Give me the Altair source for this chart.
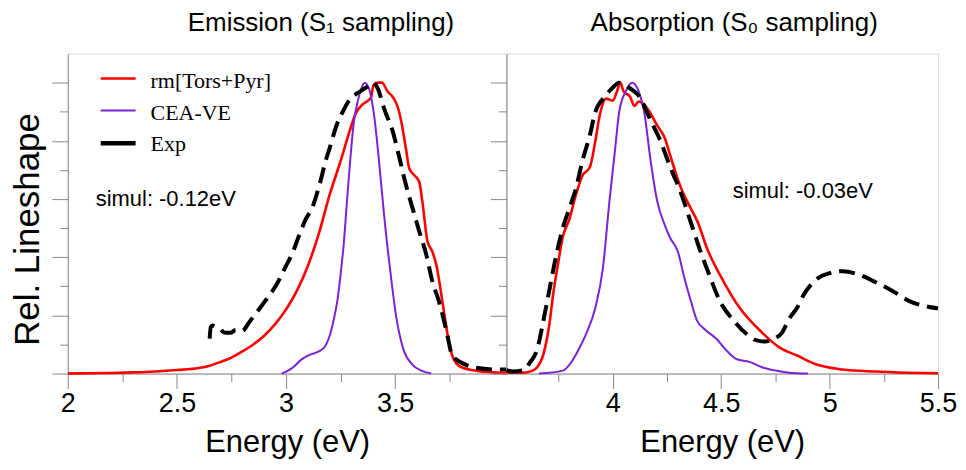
import altair as alt
import pandas as pd

RED = "#ff0000"
PURPLE = "#7b22d4"
BLACK = "#000000"
FONT = "Liberation Sans"
SERIF = "Liberation Serif"

SERIES = ["rm[Tors+Pyr]", "CEA-VE", "Exp"]
LEFT_TITLE = "Emission (S\u2081 sampling)"
RIGHT_TITLE = "Absorption (S\u2080 sampling)"
LEFT_NOTE = "simul: -0.12eV"
RIGHT_NOTE = "simul: -0.03eV"
X_TITLE = "Energy (eV)"
Y_TITLE = "Rel. Lineshape"

left_xticks = [2, 2.25, 2.5, 2.75, 3, 3.25, 3.5, 3.75]
right_xticks = [3.75, 4, 4.25, 4.5, 4.75, 5, 5.25, 5.5]
yticks = [0, 0.1, 0.2, 0.3, 0.4, 0.5, 0.6, 0.7, 0.8, 0.9, 1.0]
left_domain = [2, 4.01]
right_domain = [3.51, 5.5]
y_domain = [0, 1.1]

# ---- Emission (S1 sampling) ----
em_rm_E = [2.00, 2.10, 2.20, 2.30, 2.40, 2.50, 2.60, 2.65, 2.70, 2.75, 2.80, 2.85, 2.90, 2.95,
           3.00, 3.05, 3.10, 3.15, 3.20, 3.25, 3.29, 3.32, 3.35, 3.37, 3.39, 3.40, 3.42, 3.44,
           3.465, 3.49, 3.51, 3.53, 3.55, 3.565, 3.59, 3.61, 3.625, 3.648, 3.67, 3.69, 3.716,
           3.74, 3.76, 3.78, 3.81, 3.87, 3.95, 4.01]
em_rm_I = [0.000, 0.001, 0.002, 0.004, 0.007, 0.012, 0.019, 0.027, 0.040, 0.055, 0.076, 0.100, 0.130, 0.170,
           0.220, 0.285, 0.370, 0.480, 0.615, 0.730, 0.830, 0.895, 0.925, 0.935, 0.950, 0.990, 1.000, 1.000,
           0.970, 0.950, 0.920, 0.860, 0.770, 0.705, 0.680, 0.660, 0.590, 0.455, 0.420, 0.370, 0.250,
           0.135, 0.065, 0.035, 0.020, 0.010, 0.004, 0.002]

em_cea_E = [2.98, 3.03, 3.07, 3.11, 3.15, 3.18, 3.20, 3.22, 3.235, 3.25, 3.265, 3.28, 3.295, 3.31,
            3.33, 3.345, 3.36, 3.38, 3.405, 3.43, 3.45, 3.475, 3.505, 3.535, 3.58, 3.62, 3.665]
em_cea_I = [0.000, 0.020, 0.048, 0.065, 0.076, 0.095, 0.130, 0.190, 0.250, 0.340, 0.450, 0.600, 0.740, 0.860,
            0.940, 0.980, 1.000, 0.980, 0.880, 0.700, 0.540, 0.370, 0.195, 0.090, 0.030, 0.010, 0.000]

em_exp_E = [2.65, 2.655, 2.665, 2.695, 2.72, 2.745, 2.77, 2.80, 2.83, 2.86, 2.89, 2.92, 2.956, 3.00,
            3.03, 3.06, 3.09, 3.12, 3.15, 3.185, 3.20, 3.23, 3.26, 3.29, 3.32, 3.35, 3.37, 3.40,
            3.42, 3.45, 3.49, 3.52, 3.55, 3.58, 3.61, 3.643, 3.67, 3.70, 3.735, 3.76, 3.78, 3.81,
            3.87, 3.96, 4.01]
em_exp_I = [0.120, 0.160, 0.165, 0.155, 0.140, 0.140, 0.150, 0.147, 0.175, 0.205, 0.235, 0.265, 0.305, 0.370,
            0.415, 0.475, 0.530, 0.570, 0.640, 0.740, 0.775, 0.850, 0.900, 0.940, 0.960, 0.975, 0.985, 1.000,
            0.980, 0.910, 0.830, 0.740, 0.647, 0.568, 0.490, 0.408, 0.318, 0.250, 0.147, 0.065, 0.048, 0.035,
            0.020, 0.014, 0.014]

# ---- Absorption (S0 sampling) ----
ab_rm_E = [3.51, 3.59, 3.63, 3.65, 3.68, 3.71, 3.725, 3.75, 3.77, 3.80, 3.83, 3.86, 3.895, 3.92,
           3.94, 3.97, 4.00, 4.02, 4.035, 4.05, 4.08, 4.10, 4.12, 4.15, 4.17, 4.205, 4.24, 4.265,
           4.31, 4.36, 4.39, 4.435, 4.51, 4.585, 4.68, 4.77, 4.85, 4.94, 5.06, 5.21, 5.36, 5.50]
ab_rm_I = [0.003, 0.003, 0.010, 0.020, 0.065, 0.180, 0.270, 0.387, 0.470, 0.530, 0.613, 0.680, 0.710, 0.800,
           0.887, 0.945, 0.938, 0.970, 1.000, 0.970, 0.952, 0.920, 0.935, 0.920, 0.900, 0.853, 0.810, 0.750,
           0.647, 0.568, 0.524, 0.430, 0.318, 0.226, 0.147, 0.089, 0.062, 0.031, 0.014, 0.007, 0.003, 0.001]

ab_cea_E = [3.66, 3.77, 3.80, 3.83, 3.876, 3.92, 3.955, 3.985, 4.01, 4.03, 4.06, 4.09, 4.12, 4.145,
            4.175, 4.205, 4.24, 4.265, 4.30, 4.33, 4.36, 4.39, 4.42, 4.48, 4.525, 4.57, 4.63, 4.695,
            4.755, 4.83, 4.90]
ab_cea_I = [0.000, 0.010, 0.030, 0.065, 0.134, 0.226, 0.363, 0.593, 0.764, 0.900, 0.970, 1.000, 0.970, 0.900,
            0.730, 0.593, 0.510, 0.466, 0.420, 0.330, 0.250, 0.180, 0.155, 0.118, 0.079, 0.050, 0.040, 0.020,
            0.010, 0.002, 0.000]

ab_exp_E = [3.51, 3.54, 3.59, 3.62, 3.65, 3.68, 3.71, 3.74, 3.77, 3.80, 3.83, 3.86, 3.895, 3.92,
            3.955, 3.99, 4.03, 4.06, 4.09, 4.12, 4.175, 4.22, 4.265, 4.31, 4.36, 4.40, 4.45, 4.49,
            4.56, 4.62, 4.66, 4.70, 4.74, 4.78, 4.815, 4.85, 4.88, 4.95, 5.00, 5.06, 5.135, 5.21,
            5.29, 5.365, 5.44, 5.50]
ab_exp_I = [0.012, 0.007, 0.012, 0.040, 0.079, 0.180, 0.295, 0.408, 0.500, 0.568, 0.635, 0.730, 0.820, 0.900,
            0.945, 0.975, 1.000, 0.990, 0.975, 0.955, 0.870, 0.800, 0.710, 0.630, 0.520, 0.430, 0.330, 0.255,
            0.180, 0.134, 0.115, 0.110, 0.118, 0.140, 0.190, 0.226, 0.270, 0.330, 0.345, 0.352, 0.340, 0.315,
            0.284, 0.250, 0.232, 0.224]

X_MAJOR = "(datum.value*2)%1==0"
Y_MAJOR = "round(datum.value*10)%2==0"

yscale = alt.Scale(domain=y_domain, nice=False, zero=False)


def make_xaxis(ticks, last_label):
    return alt.Axis(
        values=ticks, format="~g",
        labelExpr=f"{X_MAJOR} && datum.value <= {last_label} ? datum.label : ''",
        tickSize={"condition": {"test": X_MAJOR, "value": 15}, "value": 8},
        labelFlush=False, labelOverlap=False, labelPadding=2,
        labelFont=FONT, labelFontSize=27, labelColor=BLACK,
        title=X_TITLE, titleFont=FONT, titleFontSize=31, titleFontWeight="normal",
        titleColor=BLACK, titlePadding=11, grid=False,
    )


def make_yaxis(with_title):
    kw = dict(
        values=yticks, labels=False, grid=False,
        tickSize={"condition": {"test": Y_MAJOR, "value": 16}, "value": 8},
    )
    if with_title:
        kw.update(title=Y_TITLE, titleFont=FONT, titleFontSize=35, titleFontWeight="normal",
                  titleColor=BLACK, titlePadding=6, titleY=176)
    else:
        kw.update(title=None)
    return alt.Axis(**kw)


def curve(E, I, color, width, xscale, xaxis, yaxis, dash=None):
    df = pd.DataFrame({"E": E, "I": I})
    mk = dict(color=color, strokeWidth=width, interpolate="monotone")
    if dash is not None:
        mk["strokeDash"] = dash
    return alt.Chart(df).mark_line(**mk).encode(
        x=alt.X("E:Q", scale=xscale, axis=xaxis),
        y=alt.Y("I:Q", scale=yscale, axis=yaxis),
    )


def text_layer(txt, x, y, font, size, color=BLACK):
    return alt.Chart(pd.DataFrame({"t": [txt]})).mark_text(
        font=font, fontSize=size, color=color, align="left", baseline="alphabetic"
    ).encode(text="t:N", x=alt.value(x), y=alt.value(y))


def legend_rule(color, width, y):
    return alt.Chart(pd.DataFrame({"t": [0]})).mark_rule(color=color, strokeWidth=width).encode(
        x=alt.value(33), x2=alt.value(68), y=alt.value(y)
    )


lx = alt.Scale(domain=left_domain, nice=False, zero=False)
rx = alt.Scale(domain=right_domain, nice=False, zero=False)
lxa = make_xaxis(left_xticks, 3.5)
rxa = make_xaxis(right_xticks, 5.5)
lya = make_yaxis(True)
rya = make_yaxis(False)

left = alt.layer(
    curve(em_rm_E, em_rm_I, RED, 2.6, lx, lxa, lya),
    curve(em_cea_E, em_cea_I, PURPLE, 2, lx, lxa, lya),
    curve(em_exp_E, em_exp_I, BLACK, 4, lx, lxa, lya, dash=[16, 8]),
    legend_rule(RED, 2.6, 25),
    legend_rule(PURPLE, 2, 57),
    legend_rule(BLACK, 4.5, 90),
    text_layer(SERIES[0], 83, 35, SERIF, 22),
    text_layer(SERIES[1], 83, 67, SERIF, 22),
    text_layer(SERIES[2], 83, 98, SERIF, 22),
    text_layer(LEFT_NOTE, 28, 153, FONT, 22),
).properties(
    width=440, height=321,
    title=alt.TitleParams(LEFT_TITLE, font=FONT, fontSize=26, fontWeight="normal",
                          color=BLACK, dx=34, offset=18),
)

right = alt.layer(
    curve(ab_rm_E, ab_rm_I, RED, 2.6, rx, rxa, rya),
    curve(ab_cea_E, ab_cea_I, PURPLE, 2, rx, rxa, rya),
    curve(ab_exp_E, ab_exp_I, BLACK, 4, rx, rxa, rya, dash=[16, 8]),
    text_layer(RIGHT_NOTE, 227, 145, FONT, 22),
).properties(
    width=433, height=321,
    title=alt.TitleParams(RIGHT_TITLE, font=FONT, fontSize=26, fontWeight="normal",
                          color=BLACK, dx=12, offset=18),
)

chart = alt.hconcat(left, right, spacing=0).properties(
    bounds="flush",
    padding={"left": 2, "top": 0, "right": 0, "bottom": 0},
).configure_view(
    stroke=BLACK, strokeWidth=2
).configure_axis(
    domainColor=BLACK, domainWidth=2, tickColor=BLACK, tickWidth=2
).configure(background="white")

chart.save("out.html", embed_options={"renderer": "svg", "actions": False})
